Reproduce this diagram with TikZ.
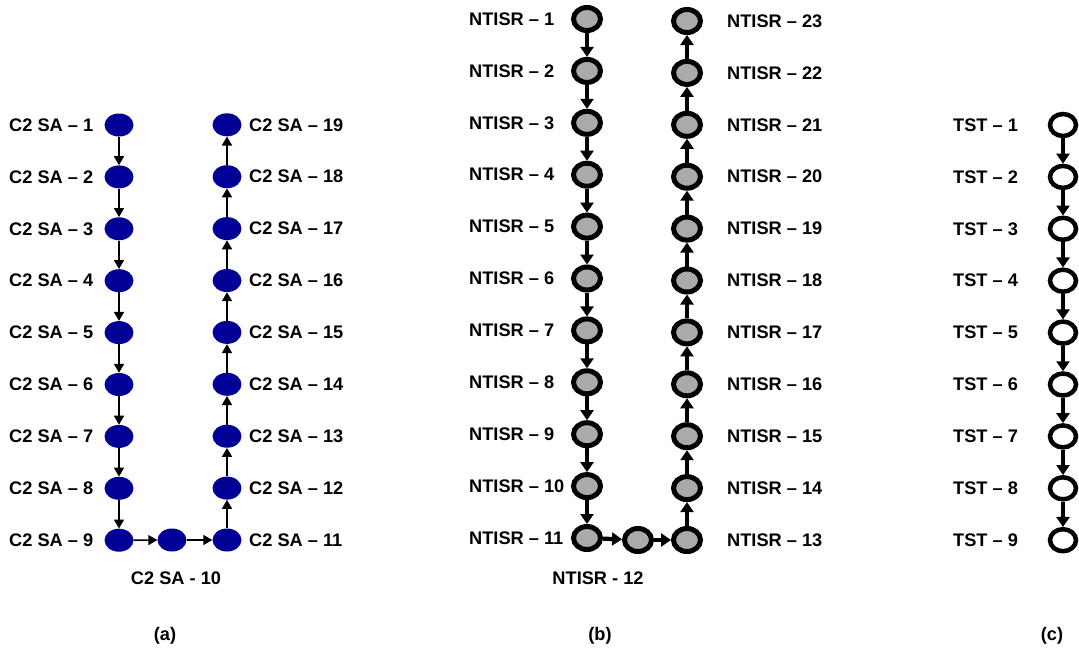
\documentclass[tikz,border=0pt]{standalone}
\usepackage{fontspec}
\setmainfont{Liberation Sans}
\usetikzlibrary{shapes.geometric,arrows.meta}
\definecolor{navyfill}{RGB}{0,0,150}
\definecolor{grayfill}{RGB}{170,170,170}
\tikzset{
  anode/.style={ellipse,fill=navyfill,minimum width=29pt,minimum height=23pt,inner sep=0pt},
  bnode/.style={ellipse,draw=black,line width=5pt,fill=grayfill,minimum width=27pt,minimum height=23pt,inner sep=0pt},
  cnode/.style={ellipse,draw=black,line width=4.5pt,fill=white,minimum width=26pt,minimum height=22pt,inner sep=0pt},
  lab/.style={font=\bfseries\fontsize{18.2}{21}\selectfont,inner sep=0pt},
  aarrow/.style={line width=1.6pt,-{Triangle[length=9pt,width=10pt]}},
  barrow/.style={line width=4.2pt,-{Triangle[length=10pt,width=13pt]}},
}
\begin{document}
\begin{tikzpicture}[x=1pt,y=-1pt]
\useasboundingbox (0,0) rectangle (1079,651);
% (a)
\foreach \i in {1,...,9}{
  \node[anode] (a\i) at (119,{125+51.9*(\i-1)}) {};
  \node[lab,anchor=west] (al\i) at (9,{125+51.9*(\i-1)}) {C2 SA – \i};
}
\node[anode] (a10) at (172,540) {};
\foreach \i in {11,...,19}{
  \node[anode] (a\i) at (227,{540-51.9*(\i-11)}) {};
  \node[lab,anchor=west] (al\i) at (249,{540-51.9*(\i-11)}) {C2 SA – \i};
}
\node[lab] (al10) at (176,578) {C2 SA - 10};
\foreach \i [evaluate=\i as \j using int(\i+1)] in {1,...,18}{
  \draw[aarrow] (a\i) -- (a\j);
}
% (b)
\foreach \i in {1,...,11}{
  \node[bnode] (b\i) at (587,{19+51.9*(\i-1)}) {};
  \node[lab,anchor=west] (bl\i) at (469,{19+51.9*(\i-1)}) {NTISR – \i};
}
\node[bnode] (b12) at (638,540) {};
\foreach \i in {13,...,23}{
  \node[bnode] (b\i) at (687,{540-51.9*(\i-13)}) {};
  \node[lab,anchor=west] (bl\i) at (727,{540-51.9*(\i-13)}) {NTISR – \i};
}
\node[lab] (bl12) at (598,578) {NTISR - 12};
\foreach \i [evaluate=\i as \j using int(\i+1)] in {1,...,22}{
  \draw[barrow] (b\i) -- (b\j);
}
% (c)
\foreach \i in {1,...,9}{
  \node[cnode] (c\i) at (1063,{125+51.9*(\i-1)}) {};
  \node[lab,anchor=west] (cl\i) at (953,{125+51.9*(\i-1)}) {TST – \i};
}
\foreach \i [evaluate=\i as \j using int(\i+1)] in {1,...,8}{
  \draw[barrow] (c\i) -- (c\j);
}
% captions
\node[lab] (capa) at (165,636) {(a)};
\node[lab] (capb) at (600,636) {(b)};
\node[lab] (capc) at (1052,636) {(c)};
\end{tikzpicture}
\end{document}
